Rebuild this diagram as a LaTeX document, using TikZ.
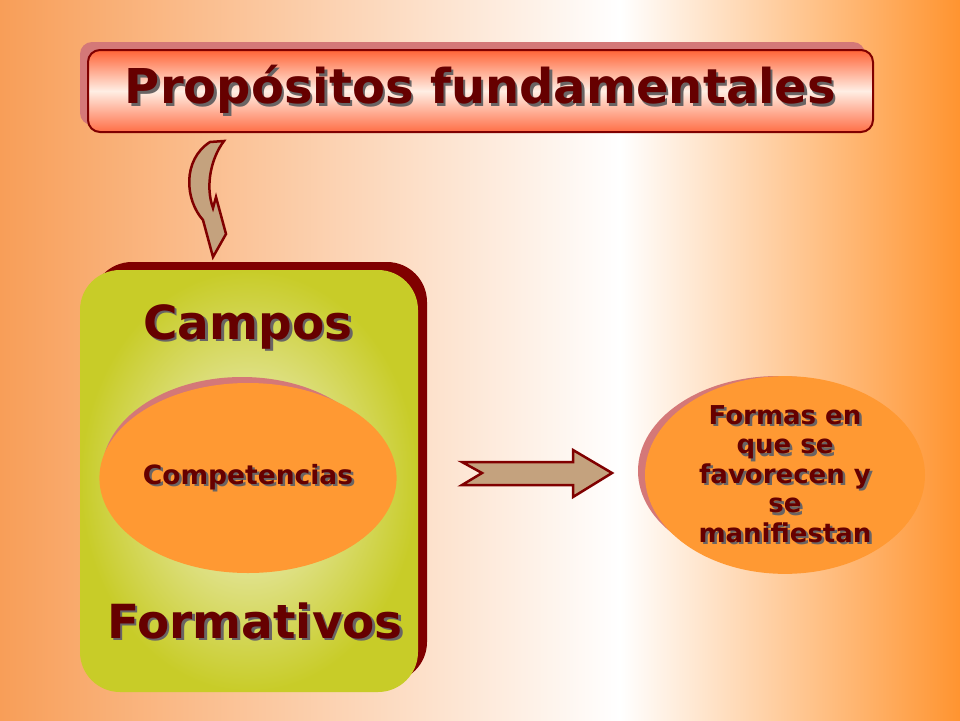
\documentclass[tikz,border=0pt]{standalone}
\usepackage{fontspec}
\setmainfont{DejaVu Sans}
\usetikzlibrary{positioning,shapes.geometric}
\definecolor{granate}{RGB}{102,0,0}
\definecolor{borde}{RGB}{128,0,0}
\definecolor{naranja}{RGB}{255,153,51}
\definecolor{fondoizq}{RGB}{248,158,88}
\definecolor{fondoder}{RGB}{255,148,48}
\definecolor{rosa}{RGB}{212,120,120}
\definecolor{verde}{RGB}{200,204,40}
\definecolor{crema}{RGB}{242,242,214}
\definecolor{corcho}{RGB}{196,162,126}
\definecolor{sombra}{RGB}{105,100,100}
\newcommand{\sombreado}[1]{\leavevmode\rlap{\kern2.5pt\raisebox{-2.5pt}{\textcolor{sombra}{#1}}}#1}
\tikzset{
  texto/.style 2 args = {text=granate, inner sep=0pt, align=center,
    font=\bfseries\fontsize{#1}{#2}\selectfont},% texto granate
  ovalo/.style = {ellipse, fill=naranja, minimum width=280pt,
    minimum height=190pt, inner sep=0pt},% ovalo naranja
  sombraovalo/.style = {ovalo, fill=rosa},% sombra del ovalo
  flecha/.style = {draw=borde, line width=2.5pt, fill=corcho,
    line join=miter}% flecha de corcho
}
\begin{document}
\begin{tikzpicture}[x=1pt,y=-1pt]
  \useasboundingbox (0,0) rectangle (960,720);
  % fondo
  \shade[left color=fondoizq, right color=white] (0,0) rectangle (620,720);
  \shade[left color=white, right color=fondoder] (620,0) rectangle (960,720);
  % titulo
  \fill[rosa, rounded corners=12pt] (80,42) rectangle (865,125);
  \node[texto={48}{54}, draw=borde, line width=2pt, rounded corners=12pt,
    minimum width=785pt, minimum height=82pt,
    top color={rgb,255:red,255;green,100;blue,55},
    bottom color={rgb,255:red,255;green,110;blue,70},
    middle color={rgb,255:red,255;green,238;blue,228}]
    (titulo) at (480.5,91) {\sombreado{Propósitos fundamentales}};
  % flecha curva
  \draw[flecha] (210,142) -- (224,141)
    .. controls (211,158) and (205,186) .. (213,208) -- (216,197)
    -- (226,234) -- (213,257) -- (203,220)
    .. controls (185,200) and (182,160) .. (210,142) -- cycle;
  % campos formativos
  \fill[borde, rounded corners=40pt] (92,262) rectangle (427,682);
  \node[draw=none, rounded corners=40pt, inner color=crema, outer color=verde,
    minimum width=338pt, minimum height=422pt] (caja) at (249,481) {};
  \node[texto={47}{53}] (campos) at (248,328) {\sombreado{Campos}};
  \node[texto={47}{53}] (formativos) at (255,622) {\sombreado{Formativos}};
  \node[sombraovalo] (sombracomp) at (242,472) {};
  \node[ovalo, texto={26.5}{30}] (comp) at (248,478) {\sombreado{Competencias}};
  % flecha recta
  \draw[flecha] (462,462) -- (573,462) -- (573,450) -- (612,473) -- (573,497)
    -- (573,485) -- (462,485) -- (482,473) -- cycle;
  % formas
  \node[sombraovalo] (sombraformas) at (778,471) {};
  \node[ovalo, texto={26}{29.5}] (formas) at (785,475)
    {\sombreado{Formas en}\\\sombreado{que se}\\\sombreado{favorecen y}\\
    \sombreado{se}\\\sombreado{manifiestan}};
\end{tikzpicture}
\end{document}
